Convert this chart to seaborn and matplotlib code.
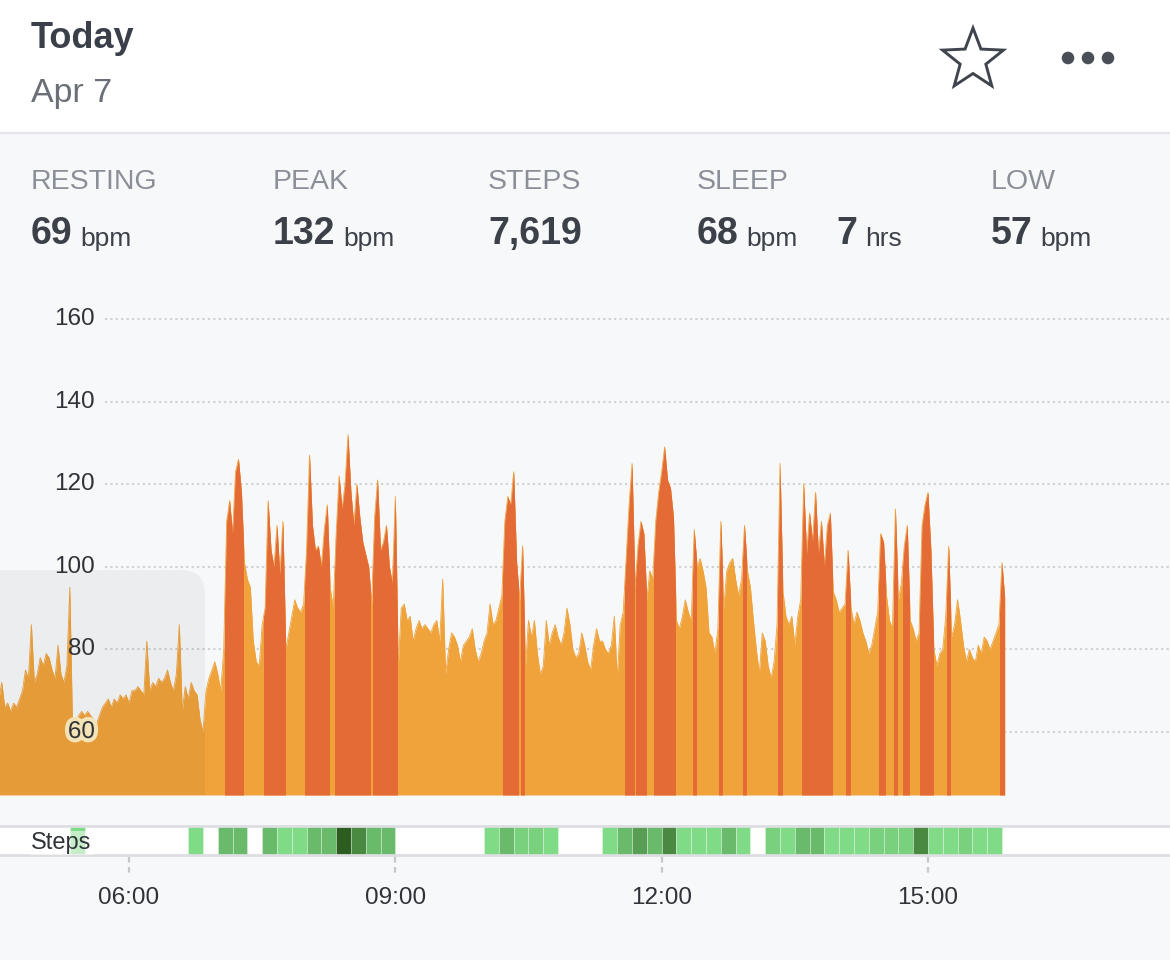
import numpy as np
import pandas as pd
import matplotlib
matplotlib.use("Agg")
import matplotlib.pyplot as plt
import matplotlib.patheffects as pe
from matplotlib.patches import Rectangle, FancyBboxPatch, Polygon, Circle
from matplotlib.transforms import blended_transform_factory
import seaborn as sns

sns.set_theme(style="white")
plt.rcParams['font.family'] = ['Liberation Sans', 'DejaVu Sans']


def mins(s):
    h, m = s.split(':')
    return int(h) * 60 + int(m)


# heart rate (bpm), one reading every 2 minutes from 04:32
hr_start = '04:32'
hr_values = [
    68, 72, 66, 67, 65, 67, 66, 68, 70, 75,
    73, 86, 72, 74, 78, 76, 79, 78, 75, 73,
    81, 74, 72, 76, 95, 58, 62, 64, 65, 64,
    65, 64, 63, 62, 64, 66, 67, 68, 66, 68,
    67, 69, 68, 69, 67, 70, 70, 71, 70, 69,
    82, 70, 72, 71, 73, 72, 73, 75, 72, 70,
    74, 86, 65, 71, 68, 72, 70, 69, 63, 60,
    70, 73, 75, 77, 74, 70, 80, 111, 116, 108,
    123, 126, 118, 101, 97, 95, 82, 77, 76, 86,
    90, 116, 104, 100, 110, 98, 111, 80, 84, 88,
    92, 90, 89, 91, 104, 127, 110, 104, 105, 100,
    109, 115, 95, 90, 108, 122, 114, 120, 132, 118,
    110, 120, 112, 106, 103, 100, 91, 112, 121, 104,
    106, 110, 100, 96, 117, 76, 90, 91, 87, 88,
    82, 85, 87, 85, 86, 85, 84, 86, 87, 82,
    97, 74, 80, 84, 83, 81, 77, 81, 82, 83,
    85, 80, 77, 79, 82, 84, 91, 86, 87, 90,
    93, 111, 117, 115, 123, 101, 92, 105, 76, 87,
    83, 87, 79, 74, 76, 87, 81, 84, 86, 83,
    81, 84, 90, 86, 80, 78, 79, 84, 81, 77,
    75, 81, 85, 82, 82, 80, 79, 81, 88, 73,
    86, 89, 102, 115, 125, 95, 105, 111, 108, 92,
    99, 97, 111, 118, 123, 129, 121, 119, 112, 87,
    85, 88, 92, 89, 87, 109, 100, 102, 99, 95,
    84, 83, 79, 85, 111, 90, 99, 101, 102, 97,
    93, 97, 110, 99, 95, 87, 80, 74, 84, 82,
    76, 73, 77, 86, 125, 94, 88, 86, 88, 81,
    88, 92, 120, 103, 113, 106, 118, 103, 111, 100,
    110, 113, 94, 92, 89, 90, 91, 104, 90, 86,
    89, 87, 84, 82, 79, 81, 85, 89, 108, 106,
    93, 87, 85, 114, 92, 96, 105, 110, 87, 85,
    82, 84, 110, 115, 118, 104, 80, 76, 79, 80,
    88, 105, 83, 86, 92, 87, 81, 77, 80, 78,
    77, 81, 79, 83, 82, 80, 82, 84, 86, 101,
    92,
]

# readings flagged as elevated zone (drawn red)
zone_spans = [
    ('07:06', '07:16'), ('07:32', '07:44'), ('08:00', '08:14'),
    ('08:20', '08:42'), ('08:46', '09:00'), ('10:14', '10:22'),
    ('10:26', '10:26'), ('11:36', '11:40'), ('11:44', '11:48'),
    ('11:56', '12:08'), ('12:22', '12:22'), ('12:40', '12:40'),
    ('12:56', '12:56'), ('13:20', '13:20'), ('13:36', '13:54'),
    ('14:06', '14:06'), ('14:28', '14:30'), ('14:38', '14:38'),
    ('14:44', '14:46'), ('14:56', '15:02'), ('15:14', '15:14'),
    ('15:50', '15:50'),
]

# steps per 10 minute bin
step_bins = [
    '05:20', '06:40', '07:00', '07:10', '07:30', '07:40', '07:50',
    '08:00', '08:10', '08:20', '08:30', '08:40', '08:50',
    '10:00', '10:10', '10:20', '10:30', '10:40',
    '11:20', '11:30', '11:40', '11:50', '12:00', '12:10', '12:20',
    '12:30', '12:40', '12:50',
    '13:10', '13:20', '13:30', '13:40', '13:50', '14:00', '14:10',
    '14:20', '14:30', '14:40', '14:50', '15:00', '15:10', '15:20',
    '15:30', '15:40',
]
step_counts = [
    85, 85, 220, 220, 220, 85, 85,
    220, 220, 600, 420, 220, 220,
    85, 220, 130, 130, 85,
    85, 220, 330, 220, 420, 85, 85,
    85, 220, 85,
    130, 85, 220, 220, 85, 85, 85,
    130, 130, 130, 420, 85, 85, 130,
    85, 85,
]

hr_ticks = [60, 80, 100, 120, 140, 160]
time_ticks = ['06:00', '09:00', '12:00', '15:00']

stat_names = ['RESTING', 'PEAK', 'STEPS', 'SLEEP', '', 'LOW']
stat_values = ['69', '132', '7,619', '68', '7', '57']
stat_units = ['bpm', 'bpm', '', 'bpm', 'hrs', 'bpm']
stat_x = [31, 273, 488, 697, 836, 991]

orange = '#F0A33B'
red = '#E46B35'
page = '#F7F8FA'
ink = '#3B4049'
y_lo, y_hi = 44.75, 167

df = pd.DataFrame({'t': mins(hr_start) + 2 * np.arange(len(hr_values)),
                   'bpm': hr_values})

fig = plt.figure(figsize=(11.7, 9.6), dpi=100, facecolor=page)

# page background / header, in pixel coordinates
bg = fig.add_axes([0, 0, 1, 1], zorder=0)
bg.set_xlim(0, 1170)
bg.set_ylim(960, 0)
bg.axis('off')
bg.add_patch(Rectangle((0, 0), 1170, 132, color='white', lw=0))
bg.plot([0, 1170], [133, 133], color='#E3E5E8', lw=1.5)

bg.text(31, 48, 'Today', fontsize=26, fontweight='bold', color='#3A3F4A', va='baseline')
bg.text(31, 102, 'Apr 7', fontsize=24.5, color='#6B6F77', va='baseline')

# star and menu dots
cx, cy, R, r = 973, 60, 32, 13.5
ang = -np.pi / 2 + np.arange(10) * np.pi / 5
rad = np.where(np.arange(10) % 2 == 0, R, r)
star = Polygon(np.c_[cx + rad * np.cos(ang), cy + rad * np.sin(ang)], closed=True,
               fill=False, ec='#40454D', lw=2.1, joinstyle='miter')
bg.add_patch(star)
for x in [1068, 1088, 1108]:
    bg.add_patch(Circle((x, 58), 6.3, color='#4A4F57', lw=0))

renderer = fig.canvas.get_renderer()
for name, val, unit, x in zip(stat_names, stat_values, stat_units, stat_x):
    if name:
        bg.text(x, 189, name, fontsize=20.5, color='#8B9098', va='baseline')
    n = bg.text(x, 244, val, fontsize=27, fontweight='bold', color=ink, va='baseline')
    if unit:
        ext = n.get_window_extent(renderer)
        bg.text(ext.x1 + 8, 246, unit, fontsize=19, color=ink, va='baseline')

# heart rate chart
ax = fig.add_axes([0, 1 - 795 / 960, 1, 505 / 960], zorder=1)
ax.set_facecolor('none')
for v in hr_ticks:
    ax.axhline(v, xmin=105 / 1170, xmax=1, color='#CDD0D5', lw=1.5,
               ls=(0, (1, 1.6)), zorder=0)

ax.fill_between(df['t'], y_lo, df['bpm'], color=orange, lw=0, zorder=1)
sns.lineplot(data=df, x='t', y='bpm', ax=ax, color=orange, lw=0.6, zorder=1)

for a, b in zone_spans:
    ta, tb = mins(a), mins(b)
    sub = df[(df['t'] >= ta - 2) & (df['t'] <= tb + 2)]
    coll = ax.fill_between(sub['t'], y_lo, sub['bpm'], color=red, lw=0, zorder=2)
    coll.set_clip_path(Rectangle((ta - 1.1, y_lo), tb - ta + 2.2, y_hi - y_lo,
                                 transform=ax.transData))

# translucent panel on the left
panel = FancyBboxPatch((-40, 570), 245, 260, boxstyle='round,pad=0,rounding_size=24',
                       transform=bg.transData, fc='black', alpha=0.045, lw=0, zorder=3)
ax.add_patch(panel)

ytrans = blended_transform_factory(ax.transAxes, ax.transData)
for v in hr_ticks:
    t = ax.text(95 / 1170, v, str(v), transform=ytrans, ha='right', va='center',
                fontsize=17.5, color='#2F3338', zorder=6)
    if v == 60:
        t.set_path_effects([pe.withStroke(linewidth=6, foreground='#F5E3B8')])

ax.set_xlim(272.8, 1063.6)
ax.set_ylim(y_lo, y_hi)
ax.axis('off')

# steps strip
sax = fig.add_axes([0, 1 - 855 / 960, 1, 29 / 960], zorder=1)
sax.set_facecolor('white')
sax.set_xlim(272.8, 1063.6)
sax.set_ylim(0, 1)
for s in ['left', 'right']:
    sax.spines[s].set_visible(False)
for s in ['top', 'bottom']:
    sax.spines[s].set_color('#DCDEE1')
    sax.spines[s].set_linewidth(2)
sax.set_yticks([])

cmap = sns.blend_palette(['#80DB86', '#2C5D1E'], as_cmap=True)
norm = plt.Normalize(85, 600)
sax.bar([mins(b) for b in step_bins], 1, width=10, align='edge',
        color=cmap(norm(np.array(step_counts))), edgecolor=(1, 1, 1, 0.35), lw=0.6, zorder=1)

sax.text(31 / 1170, 0.42, 'Steps', transform=sax.transAxes, fontsize=17, color='#2F3338',
         va='center', zorder=5,
         bbox=dict(boxstyle='square,pad=0.05', fc='white', ec='none', alpha=0.55))

tick_pos = [mins(t) for t in time_ticks]
sax.set_xticks(tick_pos, labels=time_ticks)
sax.tick_params(axis='x', length=0, pad=23, labelsize=17.5, labelcolor='#2F3338')
xtrans = blended_transform_factory(sax.transData, sax.transAxes)
sax.vlines(tick_pos, -0.08, -0.69, transform=xtrans, colors='#C4C7CC', lw=1.6,
           ls=(0, (2.5, 2)), clip_on=False)

fig.savefig('out.png', dpi=100, facecolor=fig.get_facecolor())
